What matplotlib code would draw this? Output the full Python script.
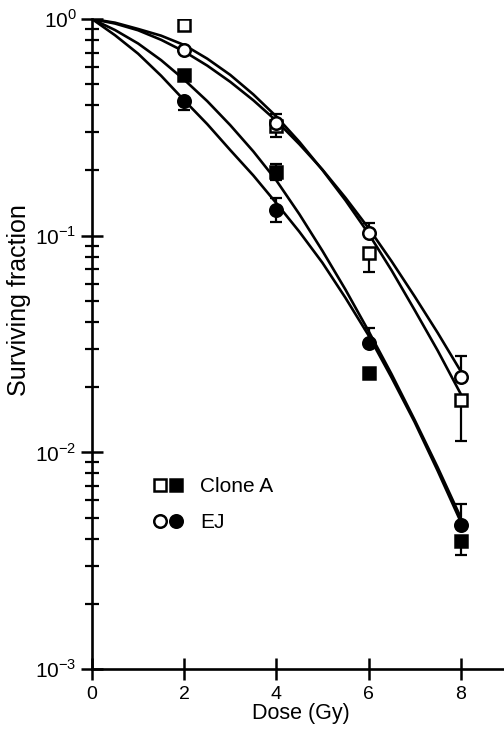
import matplotlib
matplotlib.use("Agg")
import numpy as np
import matplotlib.pyplot as plt
from matplotlib.legend_handler import HandlerTuple
from matplotlib.ticker import FixedLocator, LogLocator, NullFormatter

plt.rcParams['font.family'] = ['Liberation Sans', 'DejaVu Sans']
plt.rcParams['mathtext.fontset'] = 'custom'
plt.rcParams['mathtext.rm'] = 'Liberation Sans'

# measured points
dose = [2, 4, 6, 8]
cloneA_open = [0.94, 0.32, 0.083, 0.0175]
cloneA_open_lo = [0, 0.035, 0.015, 0.0062]
cloneA_open_hi = [0, 0.045, 0, 0]
ej_open = [0.72, 0.33, 0.103, 0.0223]
ej_open_lo = [0, 0, 0, 0]
ej_open_hi = [0, 0, 0.011, 0.0056]
cloneA_filled = [0.55, 0.197, 0.0232, 0.0039]
cloneA_filled_lo = [0, 0.017, 0, 0.00054]
cloneA_filled_hi = [0, 0.018, 0, 0]
ej_filled = [0.42, 0.131, 0.032, 0.0046]
ej_filled_lo = [0.04, 0.015, 0, 0]
ej_filled_hi = [0, 0.018, 0.0055, 0.0012]

# fitted curves, every 0.5 Gy as log10(surviving fraction)
curve_dose = [0, 0.5, 1, 1.5, 2, 2.5, 3, 3.5, 4, 4.5, 5, 5.5, 6, 6.5, 7, 7.5, 8]
cloneA_open_fit = [0, -0.017, -0.046, -0.077, -0.12, -0.183, -0.258, -0.348, -0.45,
                   -0.567, -0.697, -0.837, -0.99, -1.16, -1.343, -1.53, -1.73]
ej_open_fit = [0, -0.021, -0.052, -0.096, -0.15, -0.215, -0.29, -0.375, -0.47,
               -0.578, -0.695, -0.825, -0.965, -1.118, -1.28, -1.448, -1.625]
cloneA_filled_fit = [0, -0.051, -0.113, -0.19, -0.28, -0.379, -0.49, -0.611, -0.745,
                     -0.901, -1.07, -1.249, -1.44, -1.639, -1.85, -2.069, -2.30]
ej_filled_fit = [0, -0.075, -0.16, -0.262, -0.375, -0.485, -0.605, -0.722, -0.85,
                 -0.982, -1.125, -1.287, -1.46, -1.655, -1.86, -2.085, -2.32]

fig = plt.figure(figsize=(5.04, 7.29), dpi=100)
ax = fig.add_axes([92/504, 60/729, 412/504, 650/729])
ax.set_yscale('log')

lw = 1.9
for fit in [cloneA_open_fit, ej_open_fit, cloneA_filled_fit, ej_filled_fit]:
    ax.plot(curve_dose, 10 ** np.array(fit), color='black', lw=lw, zorder=2,
            solid_joinstyle='round', solid_capstyle='round')

series = [
    (cloneA_open, cloneA_open_lo, cloneA_open_hi, 's', 'white'),
    (ej_open, ej_open_lo, ej_open_hi, 'o', 'white'),
    (cloneA_filled, cloneA_filled_lo, cloneA_filled_hi, 's', 'black'),
    (ej_filled, ej_filled_lo, ej_filled_hi, 'o', 'black'),
]
handles = []
for vals, lo, hi, mk, face in series:
    ax.errorbar(dose, vals, yerr=[lo, hi], fmt='none', ecolor='black',
                elinewidth=1.6, capsize=4.5, capthick=1.6, zorder=3)
    h, = ax.plot(dose, vals, linestyle='none', marker=mk, markersize=9,
                 markerfacecolor=face, markeredgecolor='black',
                 markeredgewidth=1.8, zorder=4)
    handles.append(h)

ax.set_xlim(0, 8.94)
ax.set_ylim(1e-3, 1)

for s in ['top', 'right']:
    ax.spines[s].set_visible(False)
for s in ['left', 'bottom']:
    ax.spines[s].set_linewidth(lw)

ax.set_xticks([0, 2, 4, 6, 8])
ax.yaxis.set_major_locator(FixedLocator([1e-3, 1e-2, 1e-1, 1]))
ax.set_yticklabels(['$10^{-3}$', '$10^{-2}$', '$10^{-1}$', '$10^{0}$'])
ax.yaxis.set_minor_locator(LogLocator(base=10, subs=range(2, 10)))
ax.yaxis.set_minor_formatter(NullFormatter())
ax.tick_params(axis='x', which='major', direction='inout', length=16,
               width=1.8, labelsize=14, pad=4)
ax.tick_params(axis='y', which='major', direction='inout', length=16,
               width=1.8, labelsize=15, pad=3)
ax.tick_params(axis='y', which='minor', direction='inout', length=9.5, width=1.6)
ax.tick_params(axis='x', which='minor', length=0)

ax.set_xlabel('Dose (Gy)', fontsize=15.5)
ax.xaxis.set_label_coords(0.507, -0.052)
ax.set_ylabel('Surviving fraction', fontsize=18)
ax.yaxis.set_label_coords(-0.148, 0.568)

ax.legend([(handles[0], handles[2]), (handles[1], handles[3])], ['Clone A', 'EJ'],
          handler_map={tuple: HandlerTuple(ndivide=None, pad=0.05)},
          frameon=False, fontsize=15, loc='upper left',
          bbox_to_anchor=(143/504, 1 - 467/729), bbox_transform=fig.transFigure,
          handlelength=1.4, handletextpad=0.85, labelspacing=0.8, borderpad=0)

fig.savefig('out.png', dpi=100)
